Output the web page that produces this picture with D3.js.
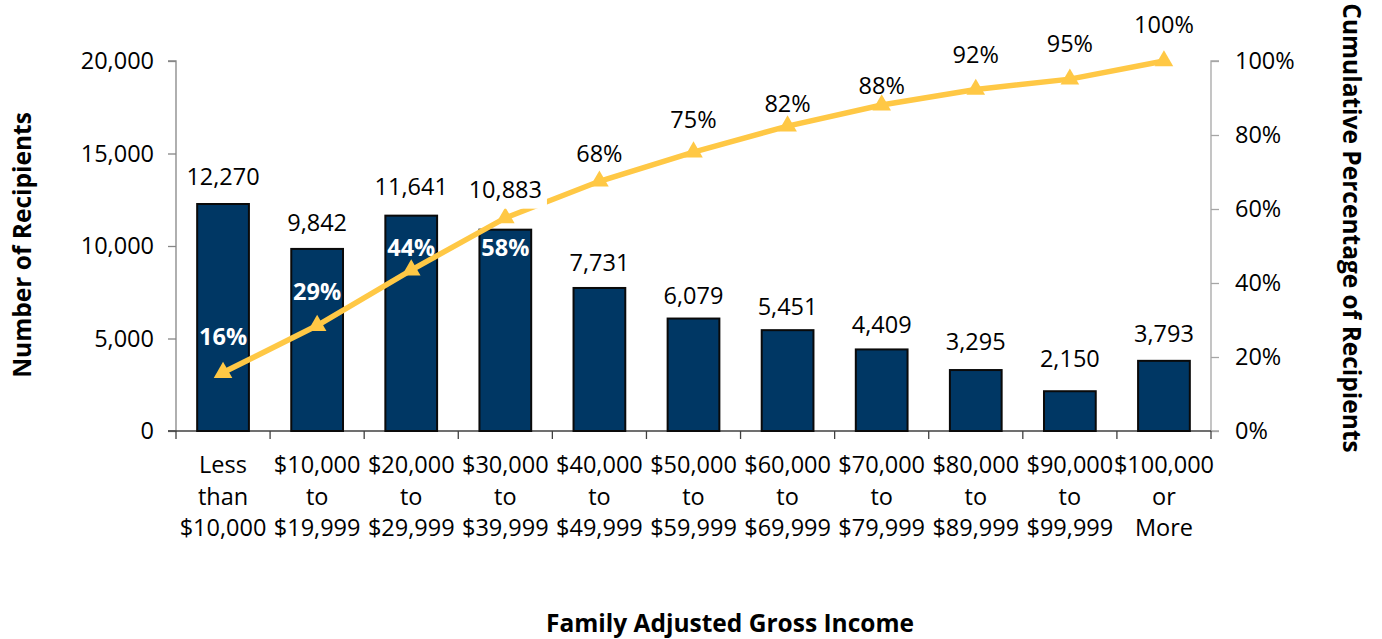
<!DOCTYPE html>
<html>
<head>
<meta charset="utf-8">
<script src="https://cdn.jsdelivr.net/npm/d3@7"></script>
<style>
  body { margin: 0; background: #fff; }
  svg text { font-family: "Open Sans", sans-serif; }
</style>
</head>
<body>
<div class="visHolder"></div>
<script>
var width = 1382,
    height = 639;

// categories, split into the three lines shown under each bar
var categories = [
  ["Less", "than", "$10,000"],
  ["$10,000", "to", "$19,999"],
  ["$20,000", "to", "$29,999"],
  ["$30,000", "to", "$39,999"],
  ["$40,000", "to", "$49,999"],
  ["$50,000", "to", "$59,999"],
  ["$60,000", "to", "$69,999"],
  ["$70,000", "to", "$79,999"],
  ["$80,000", "to", "$89,999"],
  ["$90,000", "to", "$99,999"],
  ["$100,000", "or", "More"]
];
var recipients = [12270, 9842, 11641, 10883, 7731, 6079, 5451, 4409, 3295, 2150, 3793];
var cumulative = [15.8, 28.5, 43.5, 57.6, 67.5, 75.4, 82.4, 88.1, 92.3, 95.1, 100];
var leftTicks = [0, 5000, 10000, 15000, 20000];
var rightTicks = [0, 20, 40, 60, 80, 100];

// label nudges (px) as placed in the original
var barLabelDy = [-28, -27, -30, -41, -26, -24, -24, -25, -29, -33, -28];
var pctLabelDy = [-37, -35, -23, 29, -28, -33, -23, -20, -35, -36, -37];

var fs = 23.5;
var m = {left: 176, right: width - 1211, top: 61, bottom: height - 431};

var svg = d3.select('.visHolder')
  .append('svg')
  .attr('width', width)
  .attr('height', height);

var xScale = d3.scaleBand()
  .domain(d3.range(categories.length))
  .range([m.left, width - m.right])
  .paddingInner(0.45)
  .paddingOuter(0.225);

var yScale = d3.scaleLinear().domain([0, 20000]).range([height - m.bottom, m.top]);
var pScale = d3.scaleLinear().domain([0, 100]).range([height - m.bottom, m.top]);

var step = (width - m.left - m.right) / categories.length;
var fmt = d3.format(',');

// axes
var yAxis = d3.axisLeft(yScale).tickValues(leftTicks).tickFormat(fmt).tickSize(8).tickPadding(14);
var gy = svg.append('g')
  .attr('transform', 'translate(' + m.left + ',0)')
  .call(yAxis);
gy.select('.domain').attr('stroke', '#868686').attr('stroke-width', 1.3).attr('d', 'M-8,' + yScale(20000) + 'H0V' + yScale(0) + 'H-8');
gy.selectAll('.tick line').attr('stroke', '#868686').attr('stroke-width', 1.3);
gy.selectAll('.tick text').attr('font-size', fs).attr('fill', '#000').attr('font-family', 'Open Sans');

var pAxis = d3.axisRight(pScale).tickValues(rightTicks).tickFormat(function (d) { return d + '%'; }).tickSize(8).tickPadding(16);
var gp = svg.append('g')
  .attr('transform', 'translate(' + (width - m.right) + ',0)')
  .call(pAxis);
gp.select('.domain').attr('stroke', '#a6a6a6').attr('stroke-width', 1.3).attr('d', 'M8,' + pScale(100) + 'H0V' + pScale(0) + 'H8');
gp.selectAll('.tick line').attr('stroke', '#a6a6a6').attr('stroke-width', 1.3);
gp.selectAll('.tick text').attr('font-size', fs).attr('fill', '#000').attr('font-family', 'Open Sans');

// x axis line with tick marks between categories
var base = yScale(0);
svg.append('line')
  .attr('x1', m.left - 8).attr('x2', width - m.right)
  .attr('y1', base).attr('y2', base)
  .attr('stroke', '#404040').attr('stroke-width', 1.5);
svg.selectAll('.xtick')
  .data(d3.range(categories.length + 1))
  .enter()
  .append('line')
  .attr('class', 'xtick')
  .attr('x1', function (d) { return m.left + d * step; })
  .attr('x2', function (d) { return m.left + d * step; })
  .attr('y1', base).attr('y2', base + 8)
  .attr('stroke', '#404040').attr('stroke-width', 1.3);

var xl = svg.selectAll('.xlabel')
  .data(categories)
  .enter()
  .append('text')
  .attr('class', 'xlabel')
  .attr('text-anchor', 'middle')
  .attr('font-size', fs)
  .attr('fill', '#000')
  .attr('x', function (d, i) { return xScale(i) + xScale.bandwidth() / 2; })
  .attr('y', base + 42);
xl.selectAll('tspan')
  .data(function (d) { return d; })
  .enter()
  .append('tspan')
  .attr('x', function () { return d3.select(this.parentNode).attr('x'); })
  .attr('dy', function (d, j) { return j === 0 ? 0 : 31.5; })
  .text(function (d) { return d; });

// bars
svg.selectAll('rect.bar')
  .data(recipients)
  .enter()
  .append('rect')
  .attr('class', 'bar')
  .attr('x', function (d, i) { return xScale(i); })
  .attr('y', function (d) { return yScale(d); })
  .attr('width', xScale.bandwidth())
  .attr('height', function (d) { return base - yScale(d); })
  .attr('fill', '#003764')
  .attr('stroke', '#0a0a0a')
  .attr('stroke-width', 2);

// cumulative line
var cx = function (i) { return xScale(i) + xScale.bandwidth() / 2; };
var line = d3.line()
  .x(function (d, i) { return cx(i); })
  .y(function (d) { return pScale(d); });
svg.append('path')
  .datum(cumulative)
  .attr('d', line)
  .attr('fill', 'none')
  .attr('stroke', '#ffc845')
  .attr('stroke-width', 5.5);

var tri = d3.symbol().type(d3.symbolTriangle).size(150);
svg.selectAll('.marker')
  .data(cumulative)
  .enter()
  .append('path')
  .attr('class', 'marker')
  .attr('d', tri)
  .attr('transform', function (d, i) { return 'translate(' + cx(i) + ',' + pScale(d) + ')'; })
  .attr('fill', '#ffc845');

// labels; bar labels sit on a white box that cuts the line where it crosses
function addLabel(x, y, txt, opts) {
  var g = svg.append('g');
  var t = g.append('text')
    .attr('x', x).attr('y', y)
    .attr('text-anchor', 'middle')
    .attr('dominant-baseline', 'central')
    .attr('font-size', fs)
    .attr('font-weight', opts.bold ? 700 : 400)
    .attr('fill', opts.color)
    .text(txt);
  if (opts.box) {
    var b = t.node().getBBox();
    g.insert('rect', 'text')
      .attr('x', b.x - 5).attr('y', b.y + 2)
      .attr('width', b.width + 10).attr('height', b.height + 2)
      .attr('fill', '#fff');
  }
}

recipients.forEach(function (d, i) {
  addLabel(cx(i), yScale(d) + barLabelDy[i], fmt(d), {color: '#000', box: true});
});
cumulative.forEach(function (d, i) {
  var inside = i < 4;
  addLabel(cx(i), pScale(d) + pctLabelDy[i], Math.round(d) + '%',
    {color: inside ? '#fff' : '#000', bold: inside, box: false});
});

// axis titles
svg.append('text')
  .attr('transform', 'translate(21,' + 245 + ') rotate(-90)')
  .attr('text-anchor', 'middle')
  .attr('dominant-baseline', 'central')
  .attr('font-size', 24.5)
  .attr('font-weight', 700)
  .text('Number of Recipients');

svg.append('text')
  .attr('transform', 'translate(1352,' + 228 + ') rotate(90)')
  .attr('text-anchor', 'middle')
  .attr('dominant-baseline', 'central')
  .attr('font-size', 24.5)
  .attr('font-weight', 700)
  .text('Cumulative Percentage of Recipients');

svg.append('text')
  .attr('x', 730)
  .attr('y', 622)
  .attr('text-anchor', 'middle')
  .attr('dominant-baseline', 'central')
  .attr('font-size', 24.5)
  .attr('font-weight', 700)
  .text('Family Adjusted Gross Income');
</script>
</body>
</html>
